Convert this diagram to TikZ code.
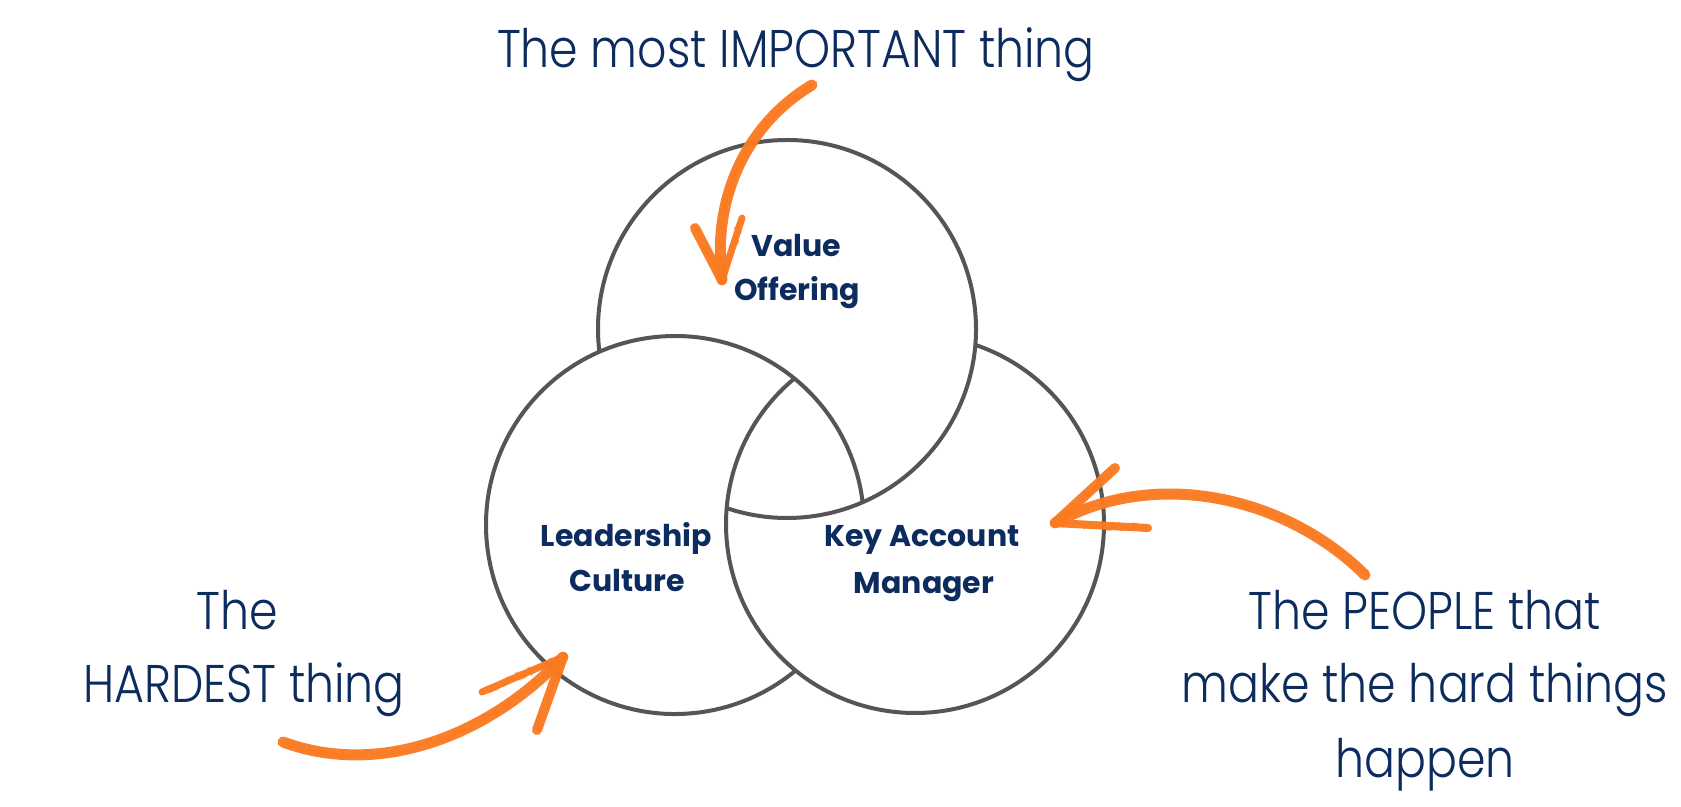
\documentclass[tikz,border=0pt]{standalone}
\usepackage{fontspec}
\usetikzlibrary{decorations.pathmorphing}
\setmainfont{Poppins}
\newfontfamily\thinfont{Poppins Light}[FakeStretch=0.865]
\definecolor{navy}{HTML}{0C2B5E}
\definecolor{ring}{HTML}{555555}
\definecolor{crayon}{HTML}{FA7A20}
\begin{document}
\begin{tikzpicture}[x=1pt,y=-1pt,
  ringline/.style={draw=ring,line width=4pt},
  bigtext/.style={inner sep=0pt,anchor=base,text=navy,font=\thinfont\fontsize{53}{60}\selectfont},
  labeltext/.style={inner sep=0pt,anchor=base,text=navy,font=\bfseries\fontsize{30}{36}\selectfont},
  rough/.style={postaction={draw=crayon,line width=3pt,opacity=0.55,line cap=round,line join=round,
     decorate,decoration={random steps,segment length=1.8pt,amplitude=3.5pt}}},
  crayonstroke/.style={draw=crayon,line width=11pt,line cap=round,line join=round,opacity=0.95,rough},
  crayonbarb/.style={draw=crayon,line width=10pt,line cap=round,opacity=0.95,rough}]
\pgfmathsetseed{11}
\useasboundingbox (0,0) rectangle (1681,806);
\fill[white] (0,0) rectangle (1681,806);

% circle centres
\coordinate (cT) at (787,329);
\coordinate (cL) at (675,525);
\coordinate (cR) at (915,524);

% interlaced rings
\draw[ringline] ([shift={(-186.9:189)}]cT) arc[start angle=-186.9,end angle=108.6,radius=189];
\draw[ringline] ([shift={(-6.9:189)}]cL) arc[start angle=-6.9,end angle=-309.4,radius=189];
\draw[ringline] ([shift={(-129.4:189)}]cR) arc[start angle=-129.4,end angle=-431.4,radius=189];

% labels in the rings
\node[labeltext] (val1) at (796.5,256) {Value};
\node[labeltext] (val2) at (797,300) {Offering};
\node[labeltext] (lead1) at (626.5,546) {Leadership};
\node[labeltext] (lead2) at (627,591) {Culture};
\node[labeltext] (kam1) at (922,546) {Key Account};
\node[labeltext] (kam2) at (924,593) {Manager};

% outer texts
\node[bigtext] (top) at (796,67) {The most IMPORTANT thing};
\node[bigtext] (hard1) at (237,629) {The};
\node[bigtext] (hard2) at (244,702) {HARDEST thing};
\node[bigtext] (ppl1) at (1425,629) {The PEOPLE that};
\node[bigtext] (ppl2) at (1425,702) {make the hard things};
\node[bigtext] (ppl3) at (1425,777) {happen};

% crayon arrows
\coordinate (a1s) at (812,85);
\coordinate (a1e) at (722,280);
\coordinate (a1l) at (695,228);
\coordinate (a1r) at (742,218);
\draw[crayonstroke] (a1s) .. controls (745,125) and (712,200) .. (a1e);
\draw[crayonbarb] (a1e) -- (a1l);
\draw[crayonbarb,line width=7pt] (a1e) -- (a1r);

\coordinate (a2s) at (1365,575);
\coordinate (a2e) at (1055,523);
\coordinate (a2u) at (1115,468);
\coordinate (a2d) at (1148,528);
\draw[crayonstroke] (a2s) .. controls (1290,500) and (1160,465) .. (a2e);
\draw[crayonbarb] (a2e) -- (a2u);
\draw[crayonbarb,line width=8pt] (a2e) -- (a2d);

\coordinate (a3s) at (283,742);
\coordinate (a3e) at (563,657);
\coordinate (a3u) at (482,692);
\coordinate (a3d) at (537,730);
\draw[crayonstroke] (a3s) .. controls (380,778) and (490,735) .. (a3e);
\draw[crayonbarb,line width=7pt] (a3e) -- (a3u);
\draw[crayonbarb] (a3e) -- (a3d);
\end{tikzpicture}
\end{document}
